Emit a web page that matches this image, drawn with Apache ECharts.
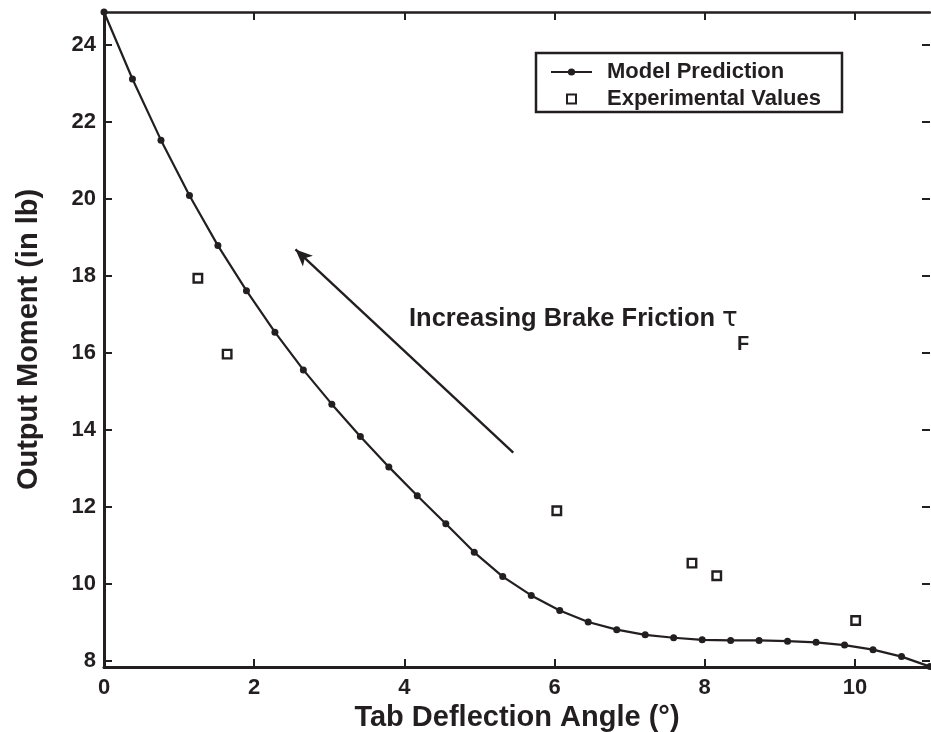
<!DOCTYPE html>
<html>
<head>
<meta charset="utf-8">
<script src="https://cdn.jsdelivr.net/npm/echarts@6/dist/echarts.min.js"></script>
<style>
  html, body { margin: 0; padding: 0; background: #fff; }
  #chart { width: 931px; height: 732px; }
</style>
</head>
<body>
<div id="chart"></div>
<script>
// Model prediction: tab deflection angle (deg) vs output moment (in lb)
const modelAngle = [0, 0.379, 0.759, 1.138, 1.517, 1.897, 2.276, 2.655, 3.034, 3.414,
  3.793, 4.172, 4.552, 4.931, 5.310, 5.690, 6.069, 6.448, 6.828, 7.207,
  7.586, 7.966, 8.345, 8.724, 9.103, 9.483, 9.862, 10.241, 10.621, 11.0];
const modelMoment = [24.86, 23.12, 21.53, 20.09, 18.79, 17.62, 16.54, 15.56, 14.67, 13.83,
  13.04, 12.29, 11.56, 10.82, 10.19, 9.70, 9.31, 9.01, 8.81, 8.675,
  8.60, 8.545, 8.53, 8.53, 8.51, 8.48, 8.41, 8.29, 8.11, 7.85];

// Measured values
const expAngle = [1.25, 1.64, 6.03, 7.83, 8.16, 10.01];
const expMoment = [17.94, 15.97, 11.90, 10.54, 10.21, 9.05];

// Axis extents and tick positions
const xRange = [0, 11];
const yRange = [7.84, 24.86];
const xTicks = [0, 2, 4, 6, 8, 10];
const yTicks = [8, 10, 12, 14, 16, 18, 20, 22, 24];

// Annotation arrow (data coordinates): tail -> head
const arrowTail = [5.45, 13.41];
const arrowHead = [2.55, 18.69];

const ink = '#231f20';
const font = '"Liberation Sans", Arial, Helvetica, sans-serif';

const chart = echarts.init(document.getElementById('chart'), null, { renderer: 'canvas' });

chart.setOption({
  backgroundColor: '#ffffff',
  animation: false,
  grid: { left: 104, right: 1, top: 12, bottom: 65, containLabel: false, outerBoundsMode: 'none' },
  xAxis: [{
    type: 'value', position: 'bottom', min: xRange[0], max: xRange[1],
    splitLine: { show: false },
    axisLine: { show: true, onZero: false, lineStyle: { color: ink, width: 3 } },
    axisTick: { show: true, inside: true, length: 8, customValues: xTicks,
      lineStyle: { color: ink, width: 2 } },
    axisLabel: { show: true, margin: 10, color: ink, fontFamily: font,
      fontWeight: 'bold', fontSize: 22, customValues: xTicks },
    name: 'Tab Deflection Angle (\u00B0)',
    nameLocation: 'middle', nameGap: 23,
    nameTextStyle: { color: ink, fontFamily: font, fontWeight: 'bold', fontSize: 29 }
  }, {
    type: 'value', position: 'top', min: xRange[0], max: xRange[1],
    splitLine: { show: false },
    axisLine: { show: true, onZero: false, lineStyle: { color: ink, width: 2.5 } },
    axisTick: { show: true, inside: true, length: 8, customValues: xTicks,
      lineStyle: { color: ink, width: 2 } },
    axisLabel: { show: false, customValues: xTicks }
  }],
  yAxis: [{
    type: 'value', position: 'left', min: yRange[0], max: yRange[1],
    splitLine: { show: false },
    axisLine: { show: true, onZero: false, lineStyle: { color: ink, width: 3 } },
    axisTick: { show: true, inside: true, length: 8, customValues: yTicks,
      lineStyle: { color: ink, width: 2 } },
    axisLabel: { show: true, margin: 8, color: ink, fontFamily: font,
      fontWeight: 'bold', fontSize: 22, customValues: yTicks },
    name: 'Output Moment (in lb)',
    nameLocation: 'middle', nameGap: 61,
    nameTextStyle: { color: ink, fontFamily: font, fontWeight: 'bold', fontSize: 29 }
  }, {
    type: 'value', position: 'right', min: yRange[0], max: yRange[1],
    splitLine: { show: false },
    axisLine: { show: true, onZero: false, lineStyle: { color: ink, width: 1, opacity: 0 } },
    axisTick: { show: true, inside: true, length: 8, customValues: yTicks,
      lineStyle: { color: ink, width: 2 } },
    axisLabel: { show: false, customValues: yTicks }
  }],
  legend: {
    orient: 'vertical',
    left: 536, top: 53,
    padding: [8, 21, 2, 14],
    itemGap: 5,
    itemWidth: 41, itemHeight: 9,
    borderColor: ink, borderWidth: 2.5,
    backgroundColor: '#fff',
    textStyle: {
      color: ink, fontFamily: font, fontWeight: 'bold', fontSize: 22,
      padding: [0, 0, 0, 10]
    },
    data: [
      { name: 'Model Prediction' },
      { name: 'Experimental Values', icon: 'path://M0,0L10,0L10,10L0,10Z' }
    ]
  },
  series: [
    {
      name: 'Model Prediction',
      type: 'line',
      data: modelAngle.map((a, i) => [a, modelMoment[i]]),
      symbol: 'circle',
      symbolSize: 7,
      showAllSymbol: true,
      clip: false,
      lineStyle: { color: ink, width: 2.2 },
      itemStyle: { color: ink, borderWidth: 0 },
      z: 3
    },
    {
      name: 'Experimental Values',
      type: 'scatter',
      data: expAngle.map((a, i) => [a, expMoment[i]]),
      symbol: 'rect',
      symbolSize: 8.5,
      itemStyle: { color: '#ffffff', borderColor: ink, borderWidth: 2.4, opacity: 1 },
      z: 4,
      markLine: {
        silent: true,
        symbol: ['none', 'arrow'],
        symbolSize: [11, 17],
        label: { show: false },
        lineStyle: { color: ink, width: 2.4, type: 'solid' },
        data: [[{ coord: arrowTail }, { coord: arrowHead }]]
      }
    }
  ],
  graphic: [
    {
      type: 'text', left: 409, top: 306, silent: true,
      style: { text: 'Increasing Brake Friction', fill: ink,
        font: 'bold 25.5px ' + font }
    },
    {
      type: 'text', left: 722, top: 306, silent: true,
      style: { text: '\u03C4', fill: ink, font: '26px "DejaVu Sans", sans-serif' }
    },
    {
      type: 'text', left: 737, top: 334, silent: true,
      style: { text: 'F', fill: ink, font: 'bold 20px ' + font }
    }
  ]
});
</script>
</body>
</html>
